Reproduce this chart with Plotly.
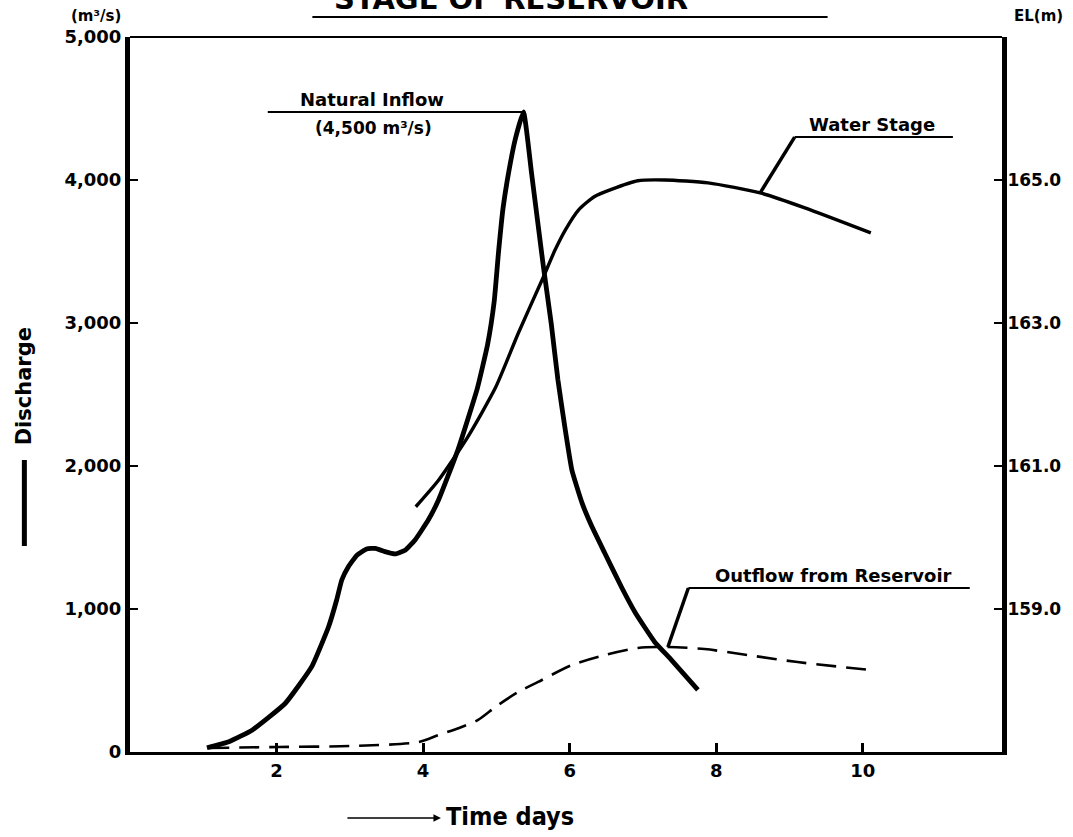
import plotly.graph_objects as go

# ---- data ----
inflow_day = [1.05, 1.35, 1.67, 2.12, 2.48, 2.71, 2.82, 2.89, 2.98, 3.10, 3.23, 3.35,
              3.48, 3.62, 3.76, 3.89, 4.07, 4.21, 4.48, 4.74, 4.88, 4.97, 5.03, 5.09,
              5.17, 5.26, 5.37, 5.48, 5.64, 5.75, 5.84, 5.94, 6.03, 6.17, 6.30, 6.48,
              6.71, 6.90, 7.16, 7.39, 7.75]
inflow_q = [30, 72, 154, 341, 597, 876, 1063, 1203, 1296, 1378, 1420, 1424,
            1401, 1385, 1413, 1483, 1622, 1762, 2120, 2543, 2850, 3150, 3500, 3800,
            4060, 4290, 4476, 4047, 3400, 2990, 2601, 2252, 1972, 1740, 1580, 1390,
            1150, 970, 770, 643, 434]

stage_day = [3.90, 4.21, 4.60, 4.99, 5.30, 5.64, 5.80, 5.94, 6.12, 6.34, 6.57, 6.93,
             7.30, 7.89, 8.60, 9.21, 10.11]
stage_el = [160.43, 160.80, 161.39, 162.10, 162.86, 163.64, 164.02, 164.30, 164.58,
            164.77, 164.87, 164.99, 165.00, 164.96, 164.82, 164.61, 164.26]

outflow_day = [1.08, 2.03, 3.02, 3.94, 4.21, 4.50, 4.75, 5.00, 5.30, 5.57, 6.03,
               6.48, 6.93, 7.34, 7.84, 8.43, 9.11, 10.11]
outflow_q = [28, 35, 42, 70, 119, 170, 224, 320, 420, 490, 608, 678, 727, 734,
             720, 678, 629, 573]

x_ticks = [2, 4, 6, 8, 10]
q_ticks = [0, 1000, 2000, 3000, 4000, 5000]
q_ticktext = ["0", "1,000", "2,000", "3,000", "4,000", "5,000"]
el_ticks = [159.0, 161.0, 163.0, 165.0]

FONT = "DejaVu Sans"
BOLD = dict(family=FONT, color="black", weight=700)

# plot area in page pixels (body margin removed by post_script)
PL, PR, PT, PB = 130, 1005, 37, 752
PW, PH = PR - PL, PB - PT


def px(x):
    return (x - PL) / PW


def py(y):
    return (PB - y) / PH


fig = go.Figure()

fig.add_trace(go.Scatter(x=inflow_day, y=inflow_q, mode="lines", name="Natural Inflow",
                         line=dict(color="black", width=4.8, shape="spline", smoothing=0.4)))
fig.add_trace(go.Scatter(x=outflow_day, y=outflow_q, mode="lines", name="Outflow from Reservoir",
                         line=dict(color="black", width=2.6, dash="20px,10px",
                                   shape="spline", smoothing=0.8)))
fig.add_trace(go.Scatter(x=stage_day, y=stage_el, mode="lines", name="Water Stage",
                         yaxis="y2",
                         line=dict(color="black", width=3.4, shape="spline", smoothing=0.6)))

# peak of inflow (for annotation leader)
pk = inflow_q.index(max(inflow_q))
pk_day, pk_q = inflow_day[pk], inflow_q[pk]

shapes = []
shapes.append(dict(type="line", xref="x", yref="y", x0=1.88, x1=pk_day, y0=pk_q, y1=pk_q,
                   line=dict(color="black", width=2)))
ws_i = stage_day.index(8.60)
shapes.append(dict(type="line", xref="x", yref="y2", x0=stage_day[ws_i], y0=stage_el[ws_i],
                   x1=9.07, y1=165.6, line=dict(color="black", width=3.5)))
shapes.append(dict(type="line", xref="x", yref="y2", x0=9.07, y0=165.6, x1=11.23, y1=165.6,
                   line=dict(color="black", width=2)))
of_i = outflow_day.index(7.34)
shapes.append(dict(type="line", xref="x", yref="y", x0=outflow_day[of_i], y0=outflow_q[of_i],
                   x1=7.62, y1=1147, line=dict(color="black", width=3.5)))
shapes.append(dict(type="line", xref="x", yref="y", x0=7.62, y0=1147, x1=11.46, y1=1147,
                   line=dict(color="black", width=2)))
shapes.append(dict(type="line", xref="paper", yref="paper", x0=0, x1=1, y0=1, y1=1,
                   line=dict(color="black", width=2)))
shapes.append(dict(type="line", xref="paper", yref="paper", x0=px(313), x1=px(830),
                   y0=py(17), y1=py(17), line=dict(color="black", width=2)))
shapes.append(dict(type="line", xref="paper", yref="paper", x0=px(24), x1=px(24),
                   y0=py(546), y1=py(460), line=dict(color="black", width=5)))

annotations = [
    dict(text="STAGE OF RESERVOIR", xref="paper", yref="paper", x=px(512),
         y=py(18), yanchor="bottom", xanchor="center", showarrow=False,
         font=dict(size=29, **BOLD)),
    dict(text="(m³/s)", xref="paper", yref="paper", x=px(96), y=py(16),
         xanchor="center", yanchor="middle", showarrow=False, font=dict(size=15, **BOLD)),
    dict(text="EL(m)", xref="paper", yref="paper", x=px(1042), y=py(16),
         xanchor="center", yanchor="middle", showarrow=False, font=dict(size=15, **BOLD)),
    dict(text="Natural Inflow", xref="x", yref="y", x=3.30, y=pk_q, yanchor="bottom",
         xanchor="center", showarrow=False, font=dict(size=18, **BOLD)),
    dict(text="(4,500 m³/s)", xref="x", yref="y", x=3.32, y=4364, yanchor="middle",
         xanchor="center", showarrow=False, font=dict(size=17, **BOLD)),
    dict(text="Water Stage", xref="x", yref="y2", x=10.12, y=165.6, yanchor="bottom",
         xanchor="center", showarrow=False, font=dict(size=18, **BOLD)),
    dict(text="Outflow from Reservoir", xref="x", yref="y", x=9.6, y=1147, yanchor="bottom",
         xanchor="center", showarrow=False, font=dict(size=18, **BOLD)),
    dict(text="Discharge", xref="paper", yref="paper", x=px(24), y=py(386), textangle=-90,
         xanchor="center", yanchor="middle", showarrow=False, font=dict(size=21, **BOLD)),
    dict(text="Time days", xref="paper", yref="paper", x=px(445), y=py(816),
         xanchor="left", yanchor="middle", showarrow=False,
         font=dict(size=25, family="DejaVu Sans Condensed", color="black", weight=700)),
    dict(text="", xref="paper", yref="paper", x=px(442), y=py(818),
         ax=-95, ay=0, axref="pixel", ayref="pixel",
         showarrow=True, arrowhead=2, arrowsize=1, arrowwidth=1.5, arrowcolor="black"),
]

fig.update_layout(
    width=1073, height=837,
    margin=dict(l=PL, r=1073 - PR, t=PT, b=837 - PB),
    paper_bgcolor="white", plot_bgcolor="white",
    showlegend=False,
    shapes=shapes, annotations=annotations,
    xaxis=dict(range=[0, 11.9], tickvals=x_ticks, ticks="inside", ticklen=9, tickwidth=3,
               tickcolor="black", showline=True, linewidth=3, linecolor="black",
               showgrid=False, zeroline=False, tickfont=dict(size=18, **BOLD)),
    yaxis=dict(range=[0, 5000], tickvals=q_ticks, ticktext=q_ticktext, ticks="inside",
               ticklen=8, tickwidth=2, tickcolor="black", showline=True, linewidth=5,
               linecolor="black", showgrid=False, zeroline=False,
               tickfont=dict(size=18, **BOLD)),
    yaxis2=dict(range=[157, 167], overlaying="y", side="right", tickvals=el_ticks,
                tickformat=".1f", ticks="inside", ticklen=8, tickwidth=2, tickcolor="black",
                showline=True, linewidth=5, linecolor="black", showgrid=False,
                zeroline=False, ticklabelstandoff=-3, tickfont=dict(size=17, **BOLD)),
)

fig.write_html("out.html", config={"displayModeBar": False},
               post_script="document.body.style.margin='0';document.body.style.overflow='hidden';")
